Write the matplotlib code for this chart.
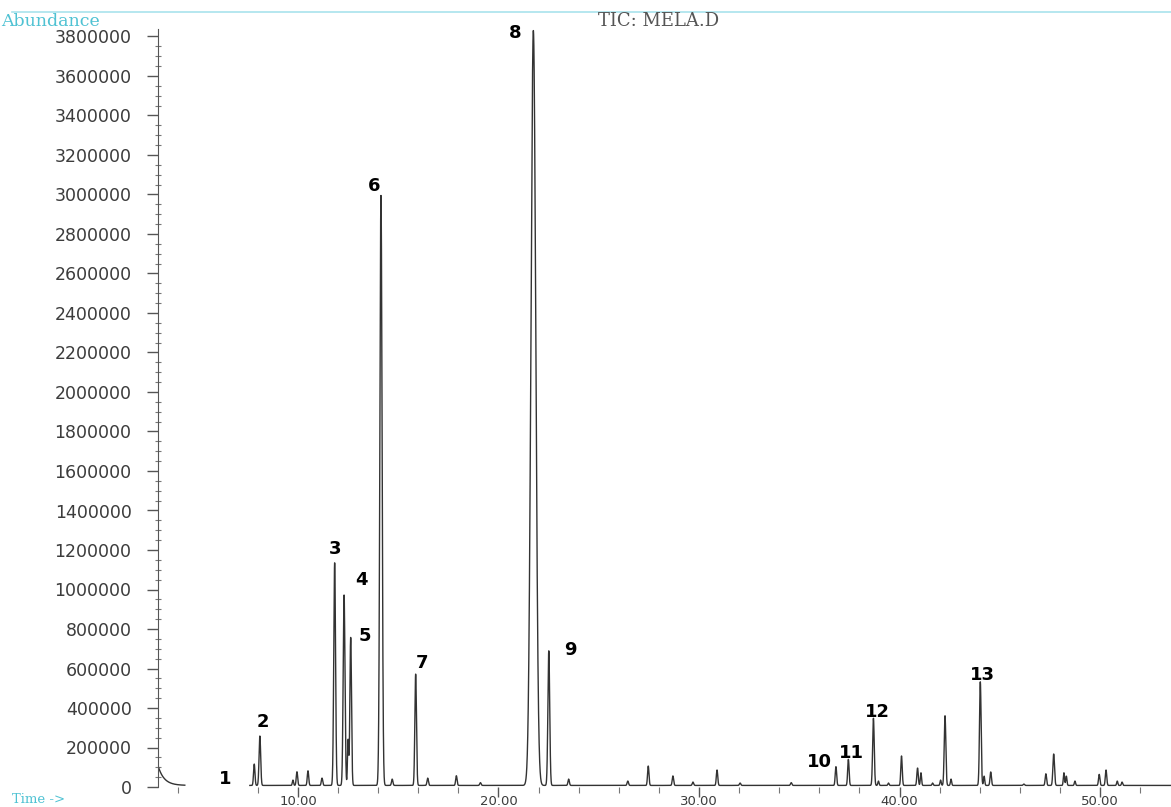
import numpy as np
import matplotlib
matplotlib.use("Agg")
import matplotlib.pyplot as plt
from matplotlib.ticker import MultipleLocator, FixedLocator, FormatStrFormatter
from matplotlib.lines import Line2D

# peak table (time in min, abundance, width sigma in min)
peak_times = [7.82, 8.10, 9.75, 9.95, 10.50, 11.20, 11.83, 12.30, 12.50, 12.63,
              14.14, 14.70, 15.87, 16.47, 17.90, 19.10, 21.74, 22.51, 23.50,
              26.45, 27.47, 28.70, 29.70, 30.90, 32.05, 34.60, 36.83, 37.45,
              38.70, 38.95, 39.45, 40.10, 40.90, 41.07, 41.65, 42.05, 42.27,
              42.57, 44.03, 44.22, 44.55, 46.20, 47.30, 47.69, 48.20, 48.32,
              48.75, 49.96, 50.30, 50.86, 51.10]
peak_heights = [116000, 258000, 35000, 77000, 82000, 45000, 1136000, 972000, 238000, 758000,
                2995000, 40000, 572000, 45000, 57000, 22000, 3830000, 690000, 40000,
                30000, 106000, 56000, 25000, 86000, 20000, 22000, 103000, 140000,
                348000, 30000, 20000, 157000, 96000, 72000, 20000, 35000, 361000,
                40000, 533000, 55000, 76000, 15000, 67000, 167000, 72000, 55000,
                30000, 64000, 86000, 30000, 25000]
peak_sigmas = [0.035, 0.04, 0.03, 0.035, 0.035, 0.035, 0.045, 0.045, 0.03, 0.04,
               0.055, 0.035, 0.04, 0.035, 0.035, 0.035, 0.12, 0.045, 0.035,
               0.035, 0.035, 0.035, 0.035, 0.035, 0.035, 0.035, 0.035, 0.035,
               0.04, 0.03, 0.03, 0.035, 0.035, 0.03, 0.03, 0.03, 0.04,
               0.03, 0.04, 0.03, 0.035, 0.035, 0.035, 0.04, 0.03, 0.03,
               0.03, 0.035, 0.035, 0.03, 0.03]

baseline_level = 8000
solvent_start = 100000      # tail of the solvent front at the start of the run
solvent_tau = 0.3
trace_gap = (4.36, 7.60)    # section of trace hidden in the original print

label_text = ["1", "2", "3", "4", "5", "6", "7", "8", "9", "10", "11", "12", "13"]
label_times = [6.36, 8.25, 11.85, 13.19, 13.34, 13.79, 16.18, 20.82, 23.57,
               36.03, 37.58, 38.88, 44.12]
label_levels = [40500, 329000, 1205000, 1048000, 765000, 3043000, 628000,
                3818000, 694000, 127000, 172000, 380000, 567000]

t_start, t_end = 3.02, 53.54
y_top = 3840000

W, H = 1171, 807
fig = plt.figure(figsize=(W / 100, H / 100), dpi=100)
ax = fig.add_axes([158 / W, 20 / H, 1 - 158 / W, 758.4 / H])

t = np.arange(t_start, t_end + 0.01, 0.004)
signal = np.full_like(t, baseline_level, dtype=float)
signal += solvent_start * np.exp(-(t - t_start) / solvent_tau)
for pt, ph, ps in zip(peak_times, peak_heights, peak_sigmas):
    signal += (ph - baseline_level) * np.exp(-0.5 * ((t - pt) / ps) ** 2)
signal[(t > trace_gap[0]) & (t < trace_gap[1])] = np.nan

ax.plot(t, signal, color="#333333", lw=1.0)

ax.set_xlim(t_start, t_end)
ax.set_ylim(0, y_top)

for s in ["top", "right", "bottom"]:
    ax.spines[s].set_visible(False)
ax.spines["left"].set_color("#555555")

# minor time ticks every 2 min, none where the trace is hidden
minor_t = [m for m in range(4, 54, 2)
           if m % 10 and not (trace_gap[0] < m < trace_gap[1])]

ax.yaxis.set_major_locator(MultipleLocator(200000))
ax.yaxis.set_minor_locator(MultipleLocator(50000))
ax.xaxis.set_major_locator(MultipleLocator(10))
ax.xaxis.set_minor_locator(FixedLocator(minor_t))
ax.xaxis.set_major_formatter(FormatStrFormatter("%.2f"))
ax.yaxis.set_major_formatter(FormatStrFormatter("%d"))

ax.tick_params(axis="y", which="major", direction="out", length=8, width=1,
               color="#555555", pad=11, labelsize=12.5, labelcolor="#3c3c3c")
ax.tick_params(axis="y", which="minor", direction="inout", length=5, width=0.8,
               color="#777777")
ax.tick_params(axis="x", which="major", direction="out", length=7, width=1,
               color="#555555", pad=-1, labelsize=9.5, labelcolor="#3c3c3c")
ax.tick_params(axis="x", which="minor", direction="out", length=4, width=0.8,
               color="#777777")
for lab in ax.get_xticklabels():
    lab.set_verticalalignment("top")

for txt, lt, lv in zip(label_text, label_times, label_levels):
    ax.text(lt, lv, txt, ha="center", va="center", fontsize=13,
            fontweight="heavy", color="black", family="DejaVu Sans")

# instrument header
fig.add_artist(Line2D([12 / W, 1], [1 - 12 / H, 1 - 12 / H],
                      color="#a9e3ec", lw=1.2))
fig.text(1 / W, 1 - 21 / H, "Abundance", ha="left", va="center",
         fontsize=12.5, color="#4fc2d3", family="DejaVu Serif")
fig.text(659 / W, 1 - 21 / H, "TIC: MELA.D", ha="center", va="center",
         fontsize=13, color="#555555", family="DejaVu Serif")
fig.text(12 / W, 1 - 793 / H, "Time ->", ha="left", va="top",
         fontsize=9.5, color="#4fc2d3", family="DejaVu Serif")

fig.savefig("out.png", dpi=100)
